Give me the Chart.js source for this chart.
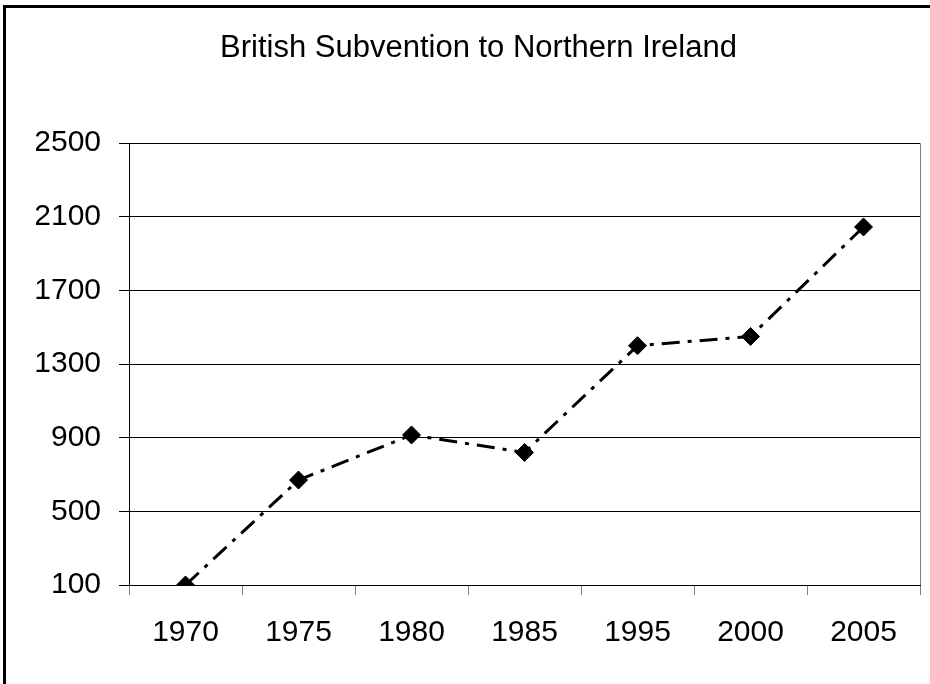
<!DOCTYPE html>
<html>
<head>
<meta charset="utf-8">
<script src="https://cdn.jsdelivr.net/npm/chart.js@4/dist/chart.umd.min.js"></script>
<style>
  html, body { margin: 0; padding: 0; background: #fff; }
  #wrap { width: 930px; height: 684px; }
</style>
</head>
<body>
<div id="wrap"><canvas id="chart" width="930" height="684"></canvas></div>
<script>
const years = ['1970', '1975', '1980', '1985', '1995', '2000', '2005'];
const subvention = [100, 670, 915, 820, 1400, 1450, 2045];
const yMin = 100;
const yMax = 2500;
const yStep = 400;

const FONT = 'Liberation Sans, Arial, sans-serif';

// outer frame (top + left only) and the grey right edge of the plot
const framePlugin = {
  id: 'frame',
  beforeDraw(chart) {
    const { ctx, chartArea } = chart;
    ctx.save();
    ctx.fillStyle = '#fff';
    ctx.fillRect(0, 0, chart.width, chart.height);
    ctx.fillStyle = '#000';
    ctx.fillRect(3, 5, chart.width - 3, 3);
    ctx.fillRect(3, 5, 3, chart.height - 5);
    ctx.strokeStyle = '#808080';
    ctx.lineWidth = 1;
    ctx.beginPath();
    ctx.moveTo(Math.round(chartArea.right) + 0.5, chartArea.top);
    ctx.lineTo(Math.round(chartArea.right) + 0.5, chartArea.bottom);
    ctx.stroke();
    ctx.restore();
  },
};

new Chart(document.getElementById('chart'), {
  type: 'line',
  data: {
    labels: years,
    datasets: [{
      data: subvention,
      borderColor: '#000',
      borderWidth: 3,
      borderDash: [18, 8, 4, 8],
      pointStyle: 'rectRot',
      pointRadius: 9,
      pointBackgroundColor: '#000',
      pointBorderColor: '#000',
      pointBorderWidth: 1,
      tension: 0,
      fill: false,
    }],
  },
  options: {
    responsive: false,
    animation: false,
    layout: { padding: { left: 36, right: 9, top: 10, bottom: 0 } },
    plugins: {
      legend: { display: false },
      tooltip: { enabled: false },
      title: {
        display: true,
        text: 'British Subvention to Northern Ireland',
        color: '#000',
        font: { family: FONT, size: 31, weight: 'normal' },
        padding: { top: 20, bottom: 76 },
      },
    },
    scales: {
      x: {
        type: 'category',
        offset: true,
        grid: {
          offset: true,
          drawOnChartArea: false,
          drawTicks: true,
          tickLength: 10,
          color: '#808080',
        },
        border: { display: true, color: '#000', width: 1 },
        ticks: {
          color: '#000',
          padding: 20,
          font: { family: FONT, size: 30 },
          maxRotation: 0,
        },
        afterFit(scale) { scale.height = 99; },
      },
      y: {
        min: yMin,
        max: yMax,
        grid: {
          color: '#000',
          lineWidth: 1,
          drawTicks: true,
          tickLength: 10,
        },
        border: { display: true, color: '#000', width: 1 },
        ticks: {
          stepSize: yStep,
          color: '#000',
          padding: 18,
          font: { family: FONT, size: 30 },
          callback: v => String(v),
        },
        afterFit(scale) { scale.width = 93; },
      },
    },
  },
  plugins: [framePlugin],
});
</script>
</body>
</html>
